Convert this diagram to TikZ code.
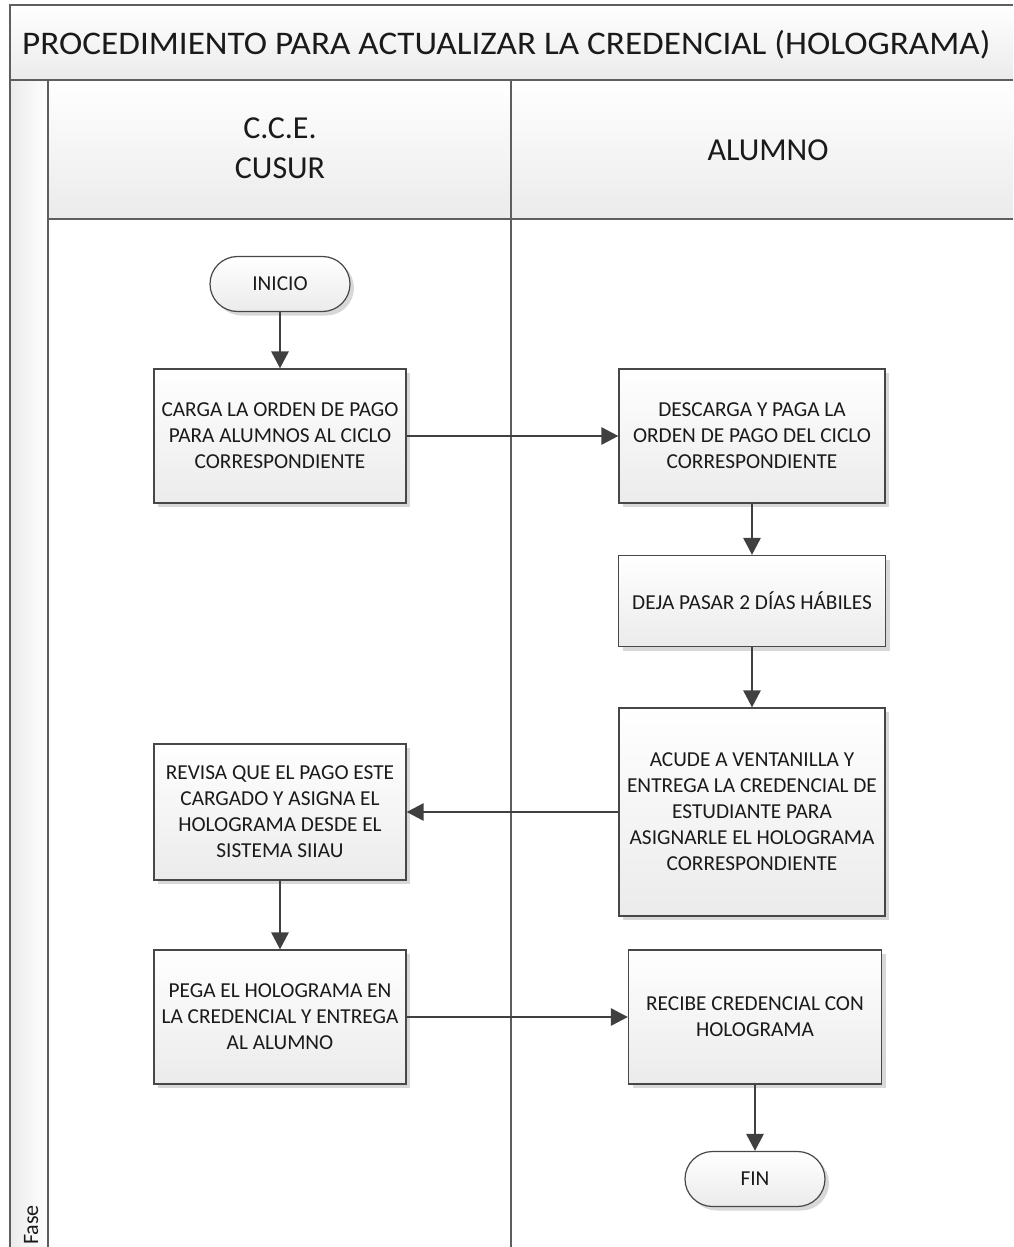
\documentclass[tikz,border=0pt]{standalone}
\usepackage{fontspec}
\setmainfont{Carlito}
\usetikzlibrary{arrows.meta,shadows}
\definecolor{frameline}{HTML}{5E5E5E}
\definecolor{boxline}{HTML}{474747}
\definecolor{flow}{HTML}{404040}
\definecolor{shade}{HTML}{EBEBEB}
\definecolor{ink}{HTML}{1A1A1A}
\begin{document}
\begin{tikzpicture}[x=1pt,y=-1pt,
  frame/.style={draw=frameline, line width=1.8pt},
  stepbox/.style={draw=boxline, line width=1.2pt, top color=white, bottom color=shade,
    text=ink, align=center, inner sep=0pt,
    font=\fontsize{21.3}{26}\selectfont,
    drop shadow={shadow xshift=4pt, shadow yshift=-4pt, fill=black!30, opacity=0.5}},
  terminal/.style={stepbox, rounded corners=27.5pt, minimum width=140pt, minimum height=55pt},
  flowarrow/.style={draw=flow, line width=2.8pt, -{Triangle[length=17pt,width=17pt]}},
  headtext/.style={text=ink, font=\fontsize{32}{40}\selectfont, align=center, inner sep=0pt},
]
\useasboundingbox (0,0) rectangle (1013,1247);

% pool background bands
\fill[top color=white, bottom color=shade] (10,5) rectangle (1013,80);
\fill[top color=white, bottom color=shade] (48,80) rectangle (1013,219);
\fill[left color=shade, right color=white] (10,80) rectangle (48,1247);

% pool frame and lane lines
\draw[frame] (1013,5) -- (10,5) -- (10,1247);
\draw[frame] (10,80) -- (1013,80);
\draw[frame] (48,80) -- (48,1247);
\draw[frame] (48,219) -- (1013,219);
\draw[frame] (511,80) -- (511,1247);

% titles
\node[headtext, font=\fontsize{33}{40}\selectfont, xscale=1.066, anchor=base west] (title) at (22,55)
  {PROCEDIMIENTO PARA ACTUALIZAR LA CREDENCIAL (HOLOGRAMA)};
\node[headtext] (lane1) at (280,148) {C.C.E.\\CUSUR};
\node[headtext] (lane2) at (768,150) {ALUMNO};
\node[text=ink, font=\fontsize{22}{24}\selectfont, rotate=90, anchor=base west, inner sep=0pt]
  (phase) at (38,1245) {Fase};

% flow steps
\node[terminal] (inicio) at (280,284) {INICIO};
\node[stepbox, minimum width=252pt, minimum height=134pt] (b1) at (280,436)
  {CARGA LA ORDEN DE PAGO\\PARA ALUMNOS AL CICLO\\CORRESPONDIENTE};
\node[stepbox, minimum width=266pt, minimum height=134pt] (b2) at (752,436)
  {DESCARGA Y PAGA LA\\ORDEN DE PAGO DEL CICLO\\CORRESPONDIENTE};
\node[stepbox, minimum width=267pt, minimum height=91pt] (b3) at (752,601)
  {DEJA PASAR 2 DÍAS HÁBILES};
\node[stepbox, minimum width=266pt, minimum height=208pt] (b4) at (752,812)
  {ACUDE A VENTANILLA Y\\ENTREGA LA CREDENCIAL DE\\ESTUDIANTE PARA\\ASIGNARLE EL HOLOGRAMA\\CORRESPONDIENTE};
\node[stepbox, minimum width=252pt, minimum height=136pt] (b5) at (280,812)
  {REVISA QUE EL PAGO ESTE\\CARGADO Y ASIGNA EL\\HOLOGRAMA DESDE EL\\SISTEMA SIIAU};
\node[stepbox, minimum width=252pt, minimum height=134pt] (b6) at (280,1017)
  {PEGA EL HOLOGRAMA EN\\LA CREDENCIAL Y ENTREGA\\AL ALUMNO};
\node[stepbox, minimum width=253pt, minimum height=134pt] (b7) at (755,1017)
  {RECIBE CREDENCIAL CON\\HOLOGRAMA};
\node[terminal] (fin) at (755,1179) {FIN};

% connectors
\draw[flowarrow] (inicio) -- (b1);
\draw[flowarrow] (b1) -- (b2);
\draw[flowarrow] (b2) -- (b3);
\draw[flowarrow] (b3) -- (b4);
\draw[flowarrow] (b4) -- (b5);
\draw[flowarrow] (b5) -- (b6);
\draw[flowarrow] (b6) -- (b7);
\draw[flowarrow] (b7) -- (fin);
\end{tikzpicture}
\end{document}
